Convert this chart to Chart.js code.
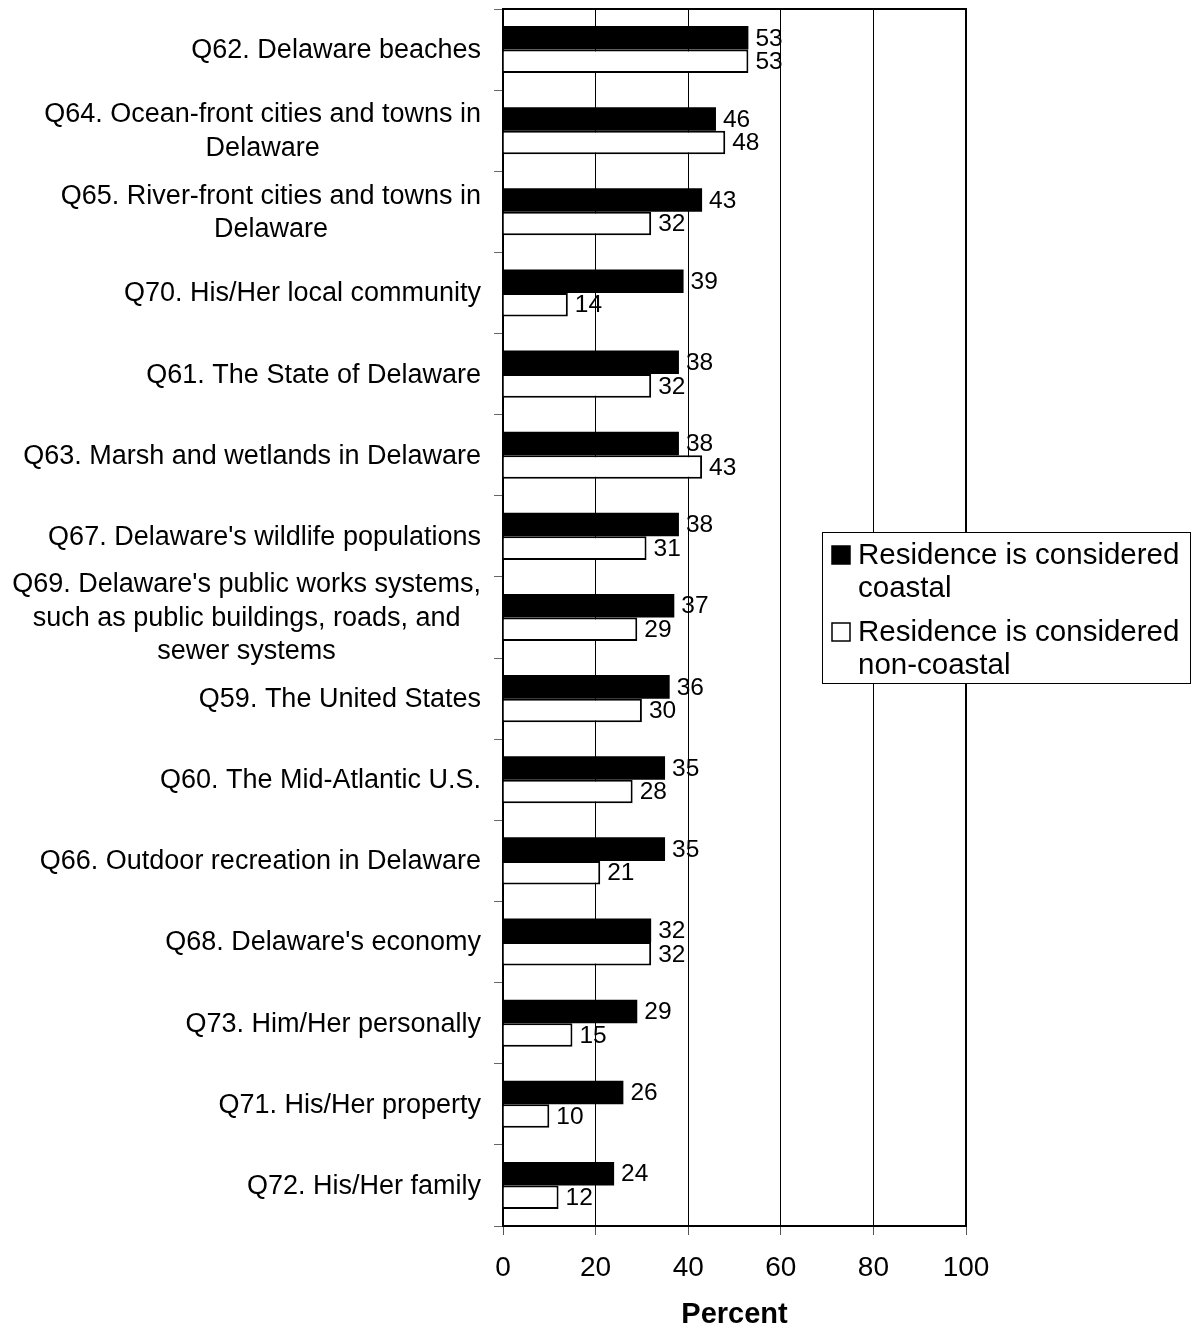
<!DOCTYPE html>
<html><head><meta charset="utf-8">
<script src="https://cdn.jsdelivr.net/npm/chart.js@4/dist/chart.umd.min.js"></script>
<style>html,body{margin:0;padding:0;background:#fff;}#wrap{width:1198px;height:1332px;position:relative}</style>
</head><body><div id="wrap"><canvas id="c" width="1198" height="1332"></canvas></div>
<script>
const categories = [
 ["Q62. Delaware beaches"],
 ["Q64. Ocean-front cities and towns in","Delaware"],
 ["Q65. River-front cities and towns in","Delaware"],
 ["Q70. His/Her local community"],
 ["Q61. The State of Delaware"],
 ["Q63. Marsh and wetlands in Delaware"],
 ["Q67. Delaware's wildlife populations"],
 ["Q69. Delaware's public works systems,","such as public buildings, roads, and","sewer systems"],
 ["Q59. The United States"],
 ["Q60. The Mid-Atlantic U.S."],
 ["Q66. Outdoor recreation in Delaware"],
 ["Q68. Delaware's economy"],
 ["Q73. Him/Her personally"],
 ["Q71. His/Her property"],
 ["Q72. His/Her family"]
];
const coastal    = [53,46,43,39,38,38,38,37,36,35,35,32,29,26,24];
const nonCoastal = [53,48,32,14,32,43,31,29,30,28,21,32,15,10,12];
const xTicks = [0,20,40,60,80,100];
const seriesNames = ["Residence is considered coastal","Residence is considered non-coastal"];
const legendLines = [["Residence is considered","coastal"],["Residence is considered","non-coastal"]];
const axisTitle = "Percent";

const FONT = "'Liberation Sans', Arial, sans-serif";

const customDraw = {
  id: 'customDraw',
  afterDatasetsDraw(chart) {
    const ctx = chart.ctx;
    const ca = chart.chartArea;
    const yScale = chart.scales.y;
    ctx.save();
    // data labels
    ctx.font = "24.5px " + FONT;
    ctx.fillStyle = '#000';
    ctx.textAlign = 'left';
    ctx.textBaseline = 'middle';
    chart.data.datasets.forEach((ds, di) => {
      const meta = chart.getDatasetMeta(di);
      meta.data.forEach((el, i) => {
        ctx.fillText(String(ds.data[i]), el.x + 7, el.y + 1);
      });
    });
    // category labels
    ctx.font = "27px " + FONT;
    ctx.textAlign = 'center';
    const lh = 33.5;
    categories.forEach((lines, i) => {
      const cy = yScale.getPixelForValue(i);
      let w = 0;
      lines.forEach(l => { w = Math.max(w, ctx.measureText(l).width); });
      const cx = 481 - w / 2;
      const y0 = cy - (lines.length - 1) * lh / 2;
      lines.forEach((l, k) => ctx.fillText(l, cx, y0 + k * lh + 1));
    });
    // plot border top/right
    ctx.strokeStyle = '#000';
    ctx.lineWidth = 2;
    ctx.beginPath();
    ctx.moveTo(ca.left, ca.top);
    ctx.lineTo(ca.right, ca.top);
    ctx.lineTo(ca.right, ca.bottom);
    ctx.stroke();
    // legend
    const bx = 822.5, by = 532.5, bw = 368, bh = 151;
    ctx.fillStyle = '#fff';
    ctx.fillRect(bx, by, bw, bh);
    ctx.lineWidth = 1;
    ctx.strokeRect(bx, by, bw, bh);
    ctx.font = "29.5px " + FONT;
    ctx.textAlign = 'left';
    ctx.fillStyle = '#000';
    const items = [
      {sq: 546, ys: [555, 588]},
      {sq: 623, ys: [632, 665]}
    ];
    chart.data.datasets.forEach((ds, di) => {
      const it = items[di];
      ctx.fillStyle = ds.backgroundColor;
      ctx.fillRect(832, it.sq, 18, 18);
      ctx.strokeStyle = '#000';
      ctx.lineWidth = 1.5;
      ctx.strokeRect(832, it.sq, 18, 18);
      ctx.fillStyle = '#000';
      legendLines[di].forEach((t, k) => ctx.fillText(t, 858, it.ys[k] + 1));
    });
    ctx.restore();
  }
};

new Chart(document.getElementById('c'), {
  type: 'bar',
  data: {
    labels: categories.map(l => l.join(' ')),
    datasets: [
      { label: seriesNames[0], data: coastal, backgroundColor: '#000', borderColor: '#000', borderWidth: 0, categoryPercentage: 0.58, barPercentage: 1.0 },
      { label: seriesNames[1], data: nonCoastal, backgroundColor: '#fff', borderColor: '#000', borderWidth: 2, categoryPercentage: 0.58, barPercentage: 1.0 }
    ]
  },
  options: {
    indexAxis: 'y',
    responsive: false,
    animation: false,
    devicePixelRatio: 1,
    layout: { padding: { top: 9, right: 232, bottom: 0, left: 0 } },
    plugins: { legend: { display: false }, tooltip: { enabled: false } },
    scales: {
      x: {
        min: 0, max: 100,
        afterBuildTicks: (s) => { s.ticks = xTicks.map(v => ({ value: v })); },
        ticks: { color: '#000', font: { family: FONT, size: 28 }, padding: 16, maxRotation: 0 },
        grid: { color: '#000', lineWidth: 1, tickLength: 9, tickColor: '#555' },
        border: { color: '#000', width: 2 },
        title: { display: true, text: axisTitle, color: '#000', font: { family: FONT, size: 29, weight: 'bold' }, padding: 0 },
        afterFit: (s) => { s.height = 106; }
      },
      y: {
        ticks: { display: false },
        grid: { drawOnChartArea: false, drawTicks: true, tickLength: 9, tickColor: '#666', offset: true },
        border: { color: '#000', width: 2 },
        afterFit: (s) => { s.width = 503; }
      }
    }
  },
  plugins: [customDraw]
});
</script>
</body></html>
